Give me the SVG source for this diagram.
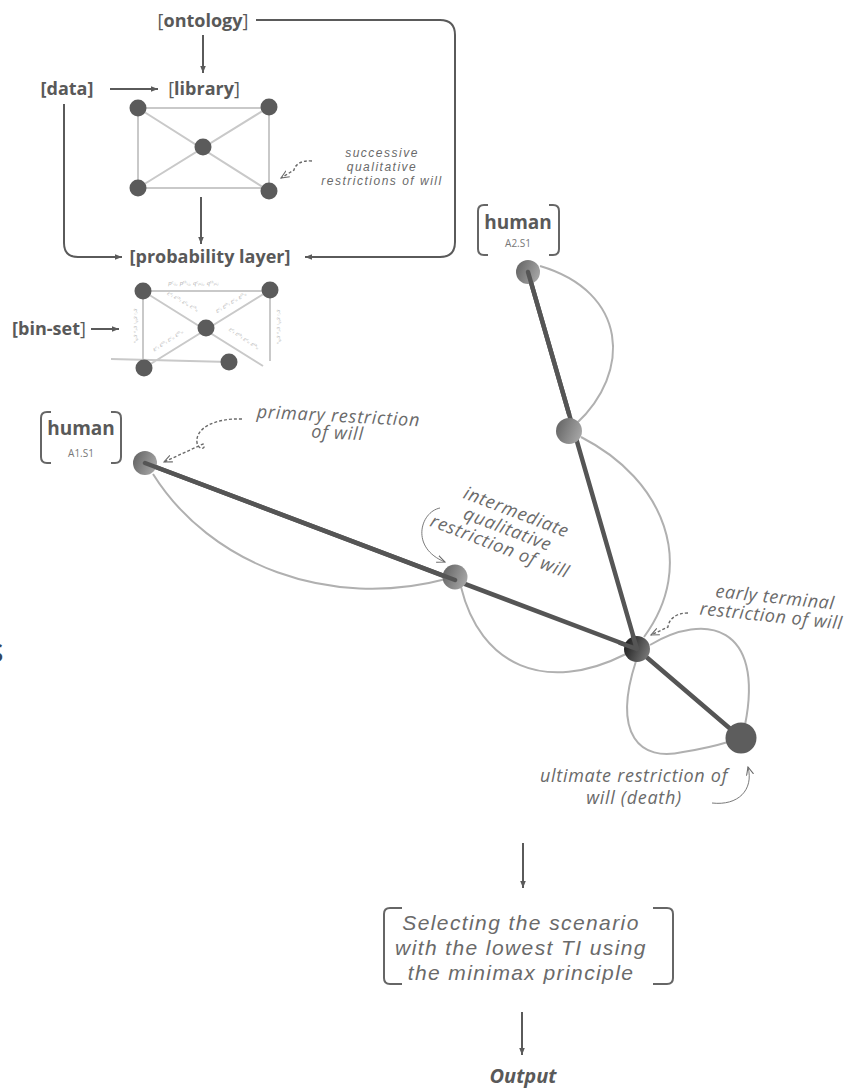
<svg xmlns="http://www.w3.org/2000/svg" width="857" height="1088" viewBox="0 0 857 1088">
<style>
.lbl{font-family:"Open Sans","Liberation Sans",sans-serif;font-weight:700;fill:#595959}
.br{font-weight:400}
.ann{font-family:"Open Sans","Liberation Sans",sans-serif;font-style:italic;fill:#6a6a6a}
.ann2{font-family:"Liberation Sans",Arial,sans-serif;font-style:italic;fill:#6a6a6a}
.sub{font-family:"Open Sans","Liberation Sans",sans-serif;fill:#777;font-size:10px}
.tiny{font-family:"DejaVu Serif","Liberation Serif",serif;font-style:italic;fill:#b0b0b0;font-size:5.5px}
.conn{fill:none;stroke:#5a5a5a;stroke-width:2}
.thin{fill:none;stroke:#7a7a7a;stroke-width:1}
.dash{fill:none;stroke:#6a6a6a;stroke-width:1.4;stroke-dasharray:3 2}
.edge{stroke:#c9c9c9;stroke-width:2;fill:none}
.gn{fill:#5b5b5b}
.thick{stroke:#555;stroke-width:4.5;fill:none;stroke-linecap:round}
.curve{stroke:#b0b0b0;stroke-width:2;fill:none}
.brk{fill:none;stroke:#666;stroke-width:2}
</style>
<defs>
<marker id="ah" viewBox="0 0 10 10" refX="10" refY="5" markerWidth="7" markerHeight="7" orient="auto" markerUnits="userSpaceOnUse"><path d="M0,1 L10,5 L0,9 z" fill="#5a5a5a"/></marker>
<marker id="oa" viewBox="0 0 10 10" refX="9" refY="5" markerWidth="9" markerHeight="9" orient="auto" markerUnits="userSpaceOnUse"><path d="M0,1 L9,5 L0,9" fill="none" stroke="#6a6a6a" stroke-width="1.2"/></marker>
<linearGradient id="gg" x1="0" y1="0.3" x2="1" y2="0.7"><stop offset="0" stop-color="#666"/><stop offset="1" stop-color="#a8a8a8"/></linearGradient>
<linearGradient id="gd" x1="0" y1="0.3" x2="1" y2="0.7"><stop offset="0" stop-color="#1e1e1e"/><stop offset="1" stop-color="#7a7a7a"/></linearGradient>
</defs>

<rect width="857" height="1088" fill="#fff"/>

<g id="connectors">
  <path class="conn" d="M256,20 H440 Q455,20 455,35 V242 Q455,257 440,257 H305" marker-end="url(#ah)"/>
  <path class="conn" d="M203,35 V73" marker-end="url(#ah)"/>
  <path class="conn" d="M110,89 H158" marker-end="url(#ah)"/>
  <path class="conn" d="M64,104 V243 Q64,257 78,257 H122" marker-end="url(#ah)"/>
  <path class="conn" d="M201,197 V244" marker-end="url(#ah)"/>
  <path class="conn" d="M91,329 H119" marker-end="url(#ah)"/>
  <path class="conn" d="M523,843 V888" marker-end="url(#ah)"/>
  <path class="conn" d="M522,1012 V1055" marker-end="url(#ah)"/>
  <!-- annotation arrows -->
  <path class="dash" stroke-width="1" d="M312,161 C301,160 295,165 294,170 L281,178" marker-end="url(#oa)"/>
  <path class="dash" d="M242,419 C215,418 195,428 197,443 C199,451 207,449 203,444 L164,462" marker-end="url(#oa)"/>
  <path class="thin" d="M440,508 C420,512 410,548 445,562" marker-end="url(#oa)"/>
  <path class="dash" stroke-width="1" d="M688,613 C676,613 669,619 668,627 L651,635" marker-end="url(#oa)"/>
  <path class="thin" d="M712,803 C738,806 754,790 748,767" marker-end="url(#oa)"/>
  <!-- scenario curves -->
  <path class="curve" d="M153,474 C210,565 330,610 446,579"/>
  <path class="curve" d="M461,587 C480,665 545,695 626,654"/>
  <path class="curve" d="M540,266 C628,292 632,372 576,424"/>
  <path class="curve" d="M581,437 C665,480 697,565 644,637"/>
  <path class="curve" d="M650,645 C705,612 765,625 745,725"/>
  <path class="curve" d="M636,661 C612,735 640,762 683,752 C702,749 715,746 728,742"/>
  <!-- thick scenario lines -->
  <path class="thick" d="M145,463 L637,649"/>
  <path class="thick" d="M528,272 L637,649"/>
  <path class="thick" d="M637,649 L741,738"/>
</g>

<g id="top-labels">
  <text class="lbl" x="203" y="27" font-size="18" text-anchor="middle"><tspan class="br">[</tspan>ontology<tspan class="br">]</tspan></text>
  <text class="lbl" x="67" y="95" font-size="18" text-anchor="middle">[data]</text>
  <text class="lbl" x="204" y="95" font-size="18" text-anchor="middle"><tspan class="br">[</tspan>library<tspan class="br">]</tspan></text>
  <text class="lbl" x="210" y="263" font-size="18" text-anchor="middle">[probability layer]</text>
  <text class="lbl" x="49" y="335" font-size="18" text-anchor="middle">[bin-set<tspan class="br">]</tspan></text>
</g>

<g id="library-graph">
  <path class="edge" d="M138,108 H269 M138,188 H269 M138,108 V188 M269,107 V191 M138,108 L269,191 M269,107 L138,188"/>
  <circle class="gn" cx="138" cy="108" r="8.5"/>
  <circle class="gn" cx="269" cy="107" r="8.5"/>
  <circle class="gn" cx="203" cy="147" r="8.5"/>
  <circle class="gn" cx="138" cy="188" r="8.5"/>
  <circle class="gn" cx="269" cy="191" r="8.5"/>
</g>

<g id="annotation-successive">
  <text class="ann2" font-size="12" text-anchor="middle" letter-spacing="1.5" x="382" y="157">successive</text>
  <text class="ann2" font-size="12" text-anchor="middle" letter-spacing="1.5" x="382" y="171">qualitative</text>
  <text class="ann2" font-size="12" text-anchor="middle" letter-spacing="1.5" x="382" y="185">restrictions of will</text>
</g>

<g id="bin-set-graph">
  <path class="edge" d="M143,291 H270 M143,291 V368 M270,290 V361 M143,291 L263,366 M270,290 L144,368 M111,359 L229,362"/>
  <text class="tiny" x="168" y="285">pᶜᵢⱼ,  pᵗʰᵢⱼ,  qᶜₚᵢⱼ,  qᵗʰₚᵢⱼ</text>
  <text class="tiny" text-anchor="middle" transform="translate(182,303) rotate(30)">εᶜᵢ  εᵗʰᵢ  εᶜᵤ  εᵗʰᵤ</text>
  <text class="tiny" text-anchor="middle" transform="translate(232,304) rotate(-31)">εᶜᵢ  εᵗʰᵢ  εᶜᵤ  εᵗʰᵤ</text>
  <text class="tiny" text-anchor="middle" transform="translate(169,342) rotate(-33)">εᶜᵢ  εᵗʰᵢ  εᶜᵤ  εᵗʰᵤ</text>
  <text class="tiny" text-anchor="middle" transform="translate(243,340) rotate(34)">εᶜᵢ  εᵗʰᵢ  εᶜᵤ  εᵗʰᵤ</text>
  <text class="tiny" text-anchor="middle" transform="translate(134,326) rotate(90)">εᶜᵢ   εᵗʰᵢ   εᶜᵤ   εᵗʰᵤ</text>
  <text class="tiny" text-anchor="middle" transform="translate(277,327) rotate(90)">εᶜᵢ   εᵗʰᵢ   εᶜᵤ   εᵗʰᵤ</text>
  <circle class="gn" cx="143" cy="291" r="8.5"/>
  <circle class="gn" cx="270" cy="290" r="8.5"/>
  <circle class="gn" cx="206" cy="328" r="8.5"/>
  <circle class="gn" cx="144" cy="368" r="8.5"/>
  <circle class="gn" cx="229" cy="362" r="8.5"/>
</g>

<g id="human-a1">
  <path class="brk" d="M51,412 H47 Q41,412 41,418 V457 Q41,463 47,463 H51 M111,412 H115 Q121,412 121,418 V457 Q121,463 115,463 H111"/>
  <text class="lbl" x="81" y="435" font-size="19" text-anchor="middle">human</text>
  <text class="sub" x="81" y="457" text-anchor="middle">A1.S1</text>
</g>

<g id="human-a2">
  <path class="brk" d="M488,205 H484 Q478,205 478,211 V249 Q478,255 484,255 H488 M549,205 H553 Q559,205 559,211 V249 Q559,255 553,255 H549"/>
  <text class="lbl" x="518" y="229" font-size="19" text-anchor="middle">human</text>
  <text class="sub" x="518" y="247" text-anchor="middle">A2.S1</text>
</g>

<g id="node-a1"><circle cx="145" cy="463" r="12" fill="url(#gg)"/></g>
<g id="node-a2"><circle cx="528" cy="272" r="12" fill="url(#gg)"/></g>
<g id="node-mid-a2"><circle cx="569" cy="431" r="13" fill="url(#gg)"/></g>
<g id="node-intermediate"><circle cx="455" cy="577" r="12.5" fill="url(#gg)"/></g>
<g id="node-terminal"><circle cx="637" cy="649" r="13" fill="url(#gd)"/></g>
<g id="node-ultimate"><circle cx="741" cy="738" r="15.5" fill="#5d5d5d"/></g>

<g id="thick-overlay">
  <path class="thick" d="M145,463 L455,580"/>
  <path class="thick" d="M528,272 L569,414"/>
  <path class="thick" d="M637,649 L620,643 M637,649 L633,636"/>
</g>

<g id="annotation-primary">
  <text class="ann" font-size="18" text-anchor="middle" letter-spacing="0.8" transform="translate(338,425) rotate(3)"><tspan x="0" y="-3">primary restriction</tspan><tspan x="0" y="14">of will</tspan></text>
</g>

<g id="annotation-intermediate">
  <text class="ann" font-size="18" text-anchor="middle" letter-spacing="0.8" transform="translate(507,531) rotate(21)"><tspan x="2" y="-15">intermediate</tspan><tspan x="0" y="4">qualitative</tspan><tspan x="-1" y="23">restriction of will</tspan></text>
</g>

<g id="annotation-early">
  <text class="ann" font-size="18" text-anchor="middle" letter-spacing="0.6" transform="translate(772,608) rotate(6)"><tspan x="2" y="-5">early terminal</tspan><tspan x="0" y="14">restriction of will</tspan></text>
</g>

<g id="annotation-ultimate">
  <text class="ann" font-size="18" text-anchor="middle" letter-spacing="0.7"><tspan x="634" y="782">ultimate restriction of</tspan><tspan x="634" y="804">will (death)</tspan></text>
</g>

<g id="selection-box">
  <path class="brk" d="M402,908 H390 Q384,908 384,914 V978 Q384,984 390,984 H402 M653,908 H667 Q673,908 673,914 V978 Q673,984 667,984 H653"/>
  <text class="ann2" font-size="21" text-anchor="middle" letter-spacing="1.4" fill="#666" x="521" y="930">Selecting the scenario</text>
  <text class="ann2" font-size="21" text-anchor="middle" letter-spacing="1.4" fill="#666" x="521" y="955">with the lowest TI using</text>
  <text class="ann2" font-size="21" text-anchor="middle" letter-spacing="1.4" fill="#666" x="521" y="980">the minimax principle</text>
</g>

<g id="output">
  <text class="lbl" x="523" y="1083" font-size="20" font-style="italic" text-anchor="middle">Output</text>
</g>

<text x="-11" y="662" font-family="Open Sans, sans-serif" font-size="26" font-weight="600" fill="#34455e">S</text>
</svg>
